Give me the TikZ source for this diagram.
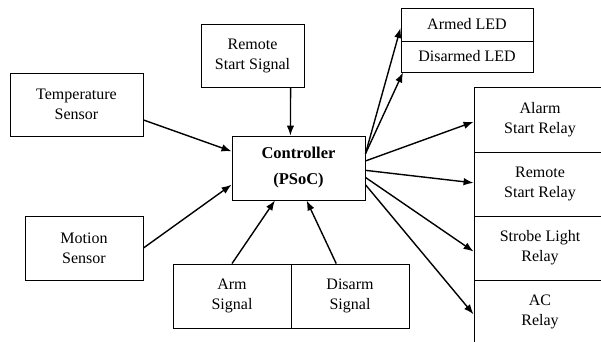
\documentclass[tikz,border=0pt]{standalone}
\usepackage{fontspec}
\setmainfont{Liberation Serif}
\usetikzlibrary{arrows.meta}

\begin{document}
\begin{tikzpicture}
		[x=1pt,y=-1pt,
		 b/.style= {draw=black,line width=0.9pt,align=center,inner sep=0pt,font=\fontsize{16}{20}\selectfont},
		 a/.style= {-{Latex[length=10pt,width=7.5pt]},line width=1.4pt}]

		\useasboundingbox (0,0) rectangle (601,341);

		% inputs
		\node[b,minimum width=103,minimum height=63] (rss) at (252.5,55.5) {Remote\\Start Signal};
		\node[b,minimum width=133,minimum height=63] (temp) at (76.5,104.5) {Temperature\\Sensor};
		\node[b,minimum width=118,minimum height=64] (motion) at (84,248) {Motion\\Sensor};
		\node[b,minimum width=118,minimum height=64] (arm) at (232,296) {Arm\\Signal};
		\node[b,minimum width=118,minimum height=64] (disarm) at (350,296) {Disarm\\Signal};

		\node[b,minimum width=133,minimum height=64,font=\fontsize{16.5}{26}\selectfont\bfseries] (ctrl) at (298.5,168) {Controller\\(PSoC)};

		% outputs
		\node[b,minimum width=132,minimum height=33] (armed) at (467,24.5) {Armed LED};
		\node[b,minimum width=132,minimum height=31] (disarmed) at (467,56.5) {Disarmed LED};

		\node[b,minimum width=132,minimum height=65] (alarm) at (540,119.5) {Alarm\\Start Relay};
		\node[b,minimum width=132,minimum height=64] (rsr) at (540,184) {Remote\\Start Relay};
		\node[b,minimum width=132,minimum height=64] (strobe) at (540,248) {Strobe Light\\Relay};
		\node[b,minimum width=132,minimum height=64] (ac) at (540,312) {AC\\Relay};

		\draw[a] (rss.-40) -- (ctrl.104.9);
		\draw[a] (temp.-13) -- (ctrl.166.5);
		\draw[a] (motion.east) -- (ctrl.194.3);
		\draw[a] (arm.north) -- (ctrl.234.9);
		\draw[a] (disarm.113.6) -- (ctrl.-76.8);

		\draw[a] (ctrl.12.7) -- (armed.183);
		\draw[a] (ctrl.12.7) -- (disarmed.194.5);
		\draw[a] (ctrl.6) -- (alarm.182);
		\draw[a] (ctrl.-2.6) -- (rsr.179);
		\draw[a] (ctrl.-8.5) -- (strobe.183.5);
		\draw[a] (ctrl.-14.3) -- (ac.182.6);

	\end{tikzpicture}
\end{document}
